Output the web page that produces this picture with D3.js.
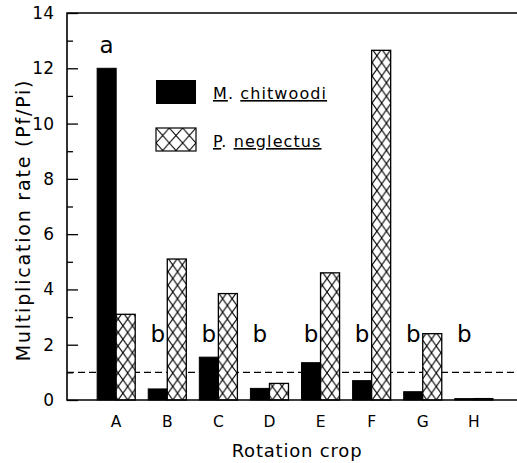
<!DOCTYPE html>
<html>
<head>
<meta charset="utf-8">
<script src="https://cdn.jsdelivr.net/npm/d3@7"></script>
<style>
  body { margin: 0; background: #fff; }
  text { font-family: "DejaVu Sans", sans-serif; fill: #000; }
</style>
</head>
<body>
<div id="vis"></div>
<script>
// data
let crops = ['A', 'B', 'C', 'D', 'E', 'F', 'G', 'H'];
let seriesNames = ['M. chitwoodi', 'P. neglectus'];
let chitwoodi = [12.0, 0.4, 1.55, 0.42, 1.35, 0.7, 0.3, 0.05];
let neglectus = [3.1, 5.1, 3.85, 0.6, 4.6, 12.65, 2.4, 0.05];
let letters = ['a', 'b', 'b', 'b', 'b', 'b', 'b', 'b'];
let majorTicks = [0, 2, 4, 6, 8, 10, 12, 14];
let minorTicks = [1, 3, 5, 7, 9, 11, 13];
let threshold = 1;

let width = 517, height = 463;
let plot = { left: 67, top: 13, right: 523, bottom: 400 };

let svg = d3.select('#vis')
  .append('svg')
  .attr('width', width)
  .attr('height', height)
  .style('display', 'block');

let x = d3.scaleBand()
  .domain(crops)
  .range([plot.left, plot.right])
  .paddingInner(0.255)
  .paddingOuter(0.59);

let xs = d3.scaleBand()
  .domain(seriesNames)
  .range([0, x.bandwidth()]);

let y = d3.scaleLinear()
  .domain([0, 14])
  .range([plot.bottom, plot.top]);

let rows = crops.map((c, i) => ({ crop: c, m: chitwoodi[i], p: neglectus[i], letter: letters[i] }));

let defs = svg.append('defs');

// one hatch pattern per bar so the diamonds line up with the bar edges
rows.forEach((d, i) => {
  let bx = x(d.crop) + xs(seriesNames[1]);
  let w = xs.bandwidth() / 2, h = 13.5;
  let pat = defs.append('pattern')
    .attr('id', 'hatch' + i)
    .attr('patternUnits', 'userSpaceOnUse')
    .attr('x', bx).attr('y', plot.bottom)
    .attr('width', w).attr('height', h);
  pat.append('rect').attr('width', w).attr('height', h).attr('fill', '#fff');
  pat.append('path')
    .attr('d', `M0,0L${w},${h}M${w},0L0,${h}`)
    .attr('stroke', '#000')
    .attr('stroke-width', 1.1);
});

// legend hatch
let lw = 40 / 3, lh = 15;
let lpat = defs.append('pattern')
  .attr('id', 'hatchLegend')
  .attr('patternUnits', 'userSpaceOnUse')
  .attr('x', 156).attr('y', 128)
  .attr('width', lw).attr('height', lh);
lpat.append('rect').attr('width', lw).attr('height', lh).attr('fill', '#fff');
lpat.append('path')
  .attr('d', `M0,0L${lw},${lh}M${lw},0L0,${lh}`)
  .attr('stroke', '#000')
  .attr('stroke-width', 1.1);

// dashed line at Pf/Pi = 1
svg.append('line')
  .attr('x1', plot.left).attr('x2', width)
  .attr('y1', y(threshold)).attr('y2', y(threshold))
  .attr('stroke', '#000')
  .attr('stroke-width', 1.2)
  .attr('stroke-dasharray', '7,4');

let groups = svg.append('g')
  .selectAll('g')
  .data(rows)
  .join('g')
  .attr('transform', d => `translate(${x(d.crop)},0)`);

groups.append('rect')
  .attr('x', xs(seriesNames[0]))
  .attr('y', d => y(d.m))
  .attr('width', xs.bandwidth())
  .attr('height', d => y(0) - y(d.m))
  .attr('fill', '#000')
  .attr('stroke', '#000')
  .attr('stroke-width', 1);

groups.append('rect')
  .attr('x', xs(seriesNames[1]))
  .attr('y', d => y(d.p))
  .attr('width', xs.bandwidth())
  .attr('height', d => y(0) - y(d.p))
  .attr('fill', (d, i) => `url(#hatch${i})`)
  .attr('stroke', '#000')
  .attr('stroke-width', 1.3);

// significance letters over the black bars
groups.append('text')
  .attr('x', xs(seriesNames[0]) + xs.bandwidth() / 2)
  .attr('y', d => y(Math.max(d.m + 0.55, 2.1)))
  .attr('text-anchor', 'middle')
  .style('font-size', '23px')
  .text(d => d.letter);

// axes
let yAxis = svg.append('g')
  .attr('transform', `translate(${plot.left},0)`)
  .call(d3.axisLeft(y).tickValues(majorTicks).tickSize(-11).tickPadding(13));
yAxis.select('.domain').remove();
yAxis.selectAll('line').attr('stroke-width', 1.3);
yAxis.selectAll('text').style('font-size', '17px').style('font-family', '"DejaVu Sans", sans-serif');

let yMinor = svg.append('g')
  .attr('transform', `translate(${plot.left},0)`)
  .call(d3.axisLeft(y).tickValues(minorTicks).tickSize(-6).tickFormat(''));
yMinor.select('.domain').remove();
yMinor.selectAll('line').attr('stroke-width', 1.3);

// frame (right side falls outside the picture)
svg.append('path')
  .attr('d', `M${width + 5},${plot.top}H${plot.left}V${plot.bottom}H${width + 5}`)
  .attr('fill', 'none')
  .attr('stroke', '#000')
  .attr('stroke-width', 1.6);

// category labels
svg.append('g')
  .selectAll('text')
  .data(crops)
  .join('text')
  .attr('x', d => x(d) + x.bandwidth() / 2)
  .attr('y', 427)
  .attr('text-anchor', 'middle')
  .style('font-size', '15.5px')
  .text(d => d);

// axis titles
svg.append('text')
  .attr('transform', `translate(30,220) rotate(-90)`)
  .attr('text-anchor', 'middle')
  .style('font-size', '19px')
  .style('letter-spacing', '1.8px')
  .text('Multiplication rate (Pf/Pi)');

svg.append('text')
  .attr('x', 297)
  .attr('y', 457)
  .attr('text-anchor', 'middle')
  .style('font-size', '18px')
  .style('letter-spacing', '0.8px')
  .text('Rotation crop');

// legend
let legend = svg.append('g');
legend.append('rect')
  .attr('x', 156).attr('y', 80)
  .attr('width', 40).attr('height', 24)
  .attr('fill', '#000');
legend.append('rect')
  .attr('x', 156).attr('y', 128)
  .attr('width', 40).attr('height', 23)
  .attr('fill', 'url(#hatchLegend)')
  .attr('stroke', '#000')
  .attr('stroke-width', 1.2);

[['M', '. ', 'chitwoodi', 99], ['P', '. ', 'neglectus', 147]].forEach(s => {
  let t = legend.append('text')
    .attr('x', 213)
    .attr('y', s[3])
    .style('font-size', '16px')
    .style('letter-spacing', '1.1px');
  t.append('tspan').style('text-decoration', 'underline').text(s[0]);
  t.append('tspan').text(s[1]);
  t.append('tspan').style('text-decoration', 'underline').text(s[2]);
});
</script>
</body>
</html>
